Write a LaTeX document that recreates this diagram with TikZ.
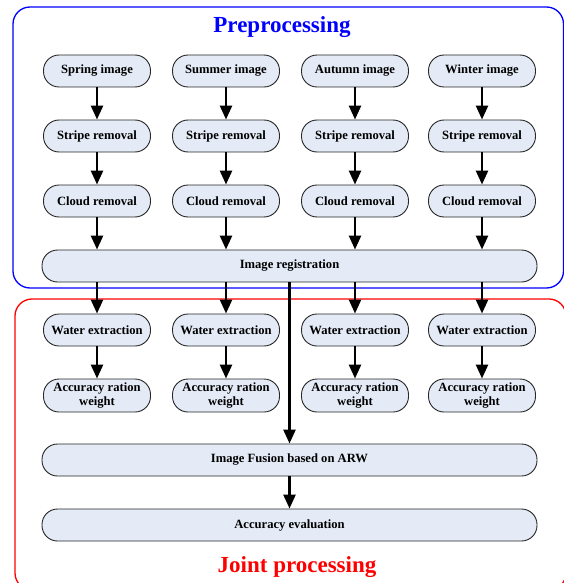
\documentclass[tikz,border=0pt]{standalone}
\usepackage{fontspec}
\setmainfont{Liberation Serif}
\usetikzlibrary{arrows.meta}
\definecolor{nodefill}{HTML}{E4EBF6}
\tikzset{
  proc/.style={draw=black!85, line width=0.9pt, fill=nodefill, rounded corners=15.5pt,
    minimum width=107pt, minimum height=32pt, inner sep=0pt, align=center,
    font=\fontsize{12.6}{14}\selectfont\bfseries},
  wide/.style={proc, minimum width=495pt},
  arr/.style={line width=2.6pt, -{Triangle[width=12pt,length=14pt]}},
  region/.style={line width=1.3pt, rounded corners=17pt},
  title/.style={font=\fontsize{23}{26}\selectfont\bfseries}
}
\begin{document}
\begin{tikzpicture}[x=1pt,y=-1pt]
\useasboundingbox (0,0) rectangle (564,583);
\draw[region, draw=blue] (13,7) rectangle (563.5,288);
\draw[region, draw=red] (15,299) rectangle (566,590);
\node[title, text=blue] (t1) at (282,27) {Preprocessing};
\node[title, text=red] (t2) at (297,567) {Joint processing};

\foreach \n/\x/\s in {1/97/Spring, 2/226/Summer, 3/355/Autumn, 4/482/Winter}{
  \node[proc] (a\n) at (\x,71) {\s\ image};
  \node[proc] (b\n) at (\x,136) {Stripe removal};
  \node[proc] (c\n) at (\x,201) {Cloud removal};
  \node[proc] (w\n) at (\x,330) {Water extraction};
  \node[proc, minimum height=33pt] (r\n) at (\x,395.5) {Accuracy ration\\weight};
}
\node[wide] (reg) at (289.5,266) {Image registration};
\node[wide] (fus) at (289.5,460) {Image Fusion based on ARW};
\node[wide] (ev) at (289.5,525) {Accuracy evaluation};

\foreach \n in {1,2,3,4}{
  \draw[arr] (a\n) -- (b\n);
  \draw[arr] (b\n) -- (c\n);
  \draw[arr] (c\n.south) -- (reg.north -| c\n.south);
  \draw[arr] (reg.south -| w\n.north) -- (w\n.north);
  \draw[arr] (w\n) -- (r\n);
}
\draw[arr] (reg.south) -- (fus.north);
\draw[arr] (fus) -- (ev);
\end{tikzpicture}
\end{document}
